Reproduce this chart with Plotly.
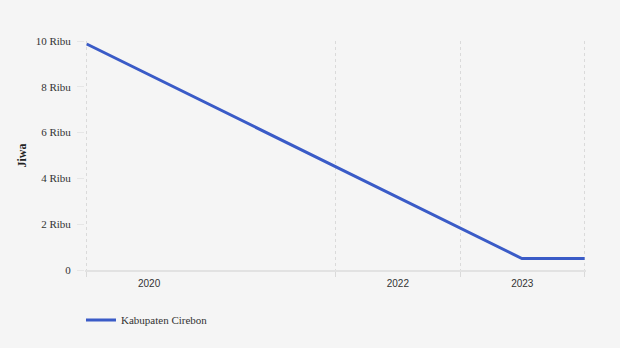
import plotly.graph_objects as go

# Data
dates = ["2020-01-01", "2022-01-01", "2023-07-01", "2024-01-01"]
values = [9870, 4510, 500, 500]
series_name = "Kabupaten Cirebon"

grid_dates = ["2020-01-01", "2022-01-01", "2023-01-01", "2024-01-01"]
label_dates = ["2020-07-02", "2022-07-02", "2023-07-02"]
label_text = ["2020", "2022", "2023"]
y_tick_vals = [0, 2000, 4000, 6000, 8000, 10000]
y_tick_text = ["0", "2 Ribu", "4 Ribu", "6 Ribu", "8 Ribu", "10 Ribu"]
y_title = "Jiwa"

SERIF = "Liberation Serif, Times New Roman, serif"
SANS = "Liberation Sans, Arial, sans-serif"
x_range = ["2019-12-27", "2024-01-05"]

fig = go.Figure()
fig.add_trace(go.Scatter(
    x=dates, y=values, mode="lines", name=series_name,
    line=dict(color="#3a5bc7", width=3),
))
# invisible helper trace on the label axis
fig.add_trace(go.Scatter(x=label_dates, y=[None] * len(label_dates), xaxis="x2",
                         showlegend=False, hoverinfo="skip", mode="lines"))

fig.update_layout(
    width=620, height=348,
    paper_bgcolor="#f5f5f5", plot_bgcolor="#f5f5f5",
    margin=dict(l=85, r=34, t=41, b=78),
    font=dict(family=SERIF, size=11, color="#333333"),
    showlegend=True,
    legend=dict(orientation="h", x=-0.008, xanchor="left", y=-0.155, yanchor="top",
                font=dict(family=SERIF, size=11, color="#333333"),
                bgcolor="rgba(0,0,0,0)"),
    xaxis=dict(
        type="date", range=x_range,
        tickmode="array", tickvals=grid_dates, ticktext=[""] * len(grid_dates),
        showgrid=True, gridcolor="#dadada", griddash="dot", gridwidth=1,
        showline=True, linecolor="#e2e2e2", linewidth=2,
        ticks="outside", ticklen=5, tickcolor="#dadada",
        zeroline=False,
    ),
    xaxis2=dict(
        type="date", range=x_range, overlaying="x", side="bottom",
        tickmode="array", tickvals=label_dates, ticktext=label_text,
        showgrid=False, showline=False, ticks="outside", ticklen=4,
        tickcolor="rgba(0,0,0,0)", zeroline=False,
        tickfont=dict(family=SANS, size=10, color="#333333"),
    ),
    yaxis=dict(
        range=[0, 10000],
        tickmode="array", tickvals=y_tick_vals, ticktext=y_tick_text,
        showgrid=False, zeroline=False, showline=False,
        ticks="outside", ticklen=7, tickcolor="#e6e6e6",
        ticklabelstandoff=4,
        tickfont=dict(family=SERIF, size=11, color="#333333"),
        title=dict(text="<b>" + y_title + "</b>", font=dict(family=SERIF, size=12, color="#222222"), standoff=6),
    ),
)

fig.write_html("out.html")
